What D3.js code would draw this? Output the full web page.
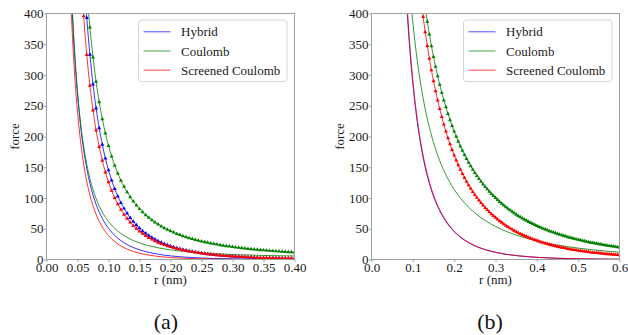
<!DOCTYPE html>
<html>
<head>
<meta charset="utf-8">
<script src="https://cdn.jsdelivr.net/npm/d3@7"></script>
<style>
  body { margin: 0; background: #fff; }
  svg { display: block; font-family: "Liberation Serif", "Times New Roman", serif; }
</style>
</head>
<body>
<svg id="chart" width="628" height="335"></svg>
<script>
// ---- data ----
const seriesNames = ["Hybrid", "Coulomb", "Screened Coulomb"];
const yTicks = [0, 50, 100, 150, 200, 250, 300, 350, 400];
const xTicksA = [0, 0.05, 0.1, 0.15, 0.2, 0.25, 0.3, 0.35, 0.4];
const xTicksB = [0, 0.1, 0.2, 0.3, 0.4, 0.5, 0.6];

// panel (a), plain lines
const rThinA = [0.035, 0.038, 0.040, 0.042, 0.045, 0.048, 0.050, 0.055, 0.060, 0.065, 0.070, 0.075, 0.080, 0.090, 0.100, 0.110, 0.120, 0.130, 0.140, 0.150, 0.165, 0.180, 0.200, 0.225, 0.250, 0.275, 0.300, 0.325, 0.350, 0.375, 0.400];
const hybridThinA = [582.5, 488.8, 437.8, 394.0, 338.9, 294.1, 268.6, 217.0, 177.9, 147.7, 124.0, 105.0, 89.7, 66.7, 50.7, 39.2, 30.7, 24.3, 19.5, 15.7, 11.6, 8.6, 5.9, 3.8, 2.4, 1.6, 1.1, 0.72, 0.49, 0.33, 0.23];
const coulombThinA = [595.0, 497.1, 444.4, 399.1, 343.6, 298.5, 273.1, 221.9, 183.8, 154.6, 131.8, 113.6, 99.0, 77.0, 61.7, 50.6, 42.3, 35.9, 30.9, 27.0, 22.4, 19.0, 15.7, 12.8, 10.7, 9.3, 8.1, 7.3, 6.6, 6.1, 5.7];
const screenedThinA = [540.0, 449.9, 401.3, 359.4, 307.0, 264.3, 240.2, 191.4, 154.8, 126.7, 104.8, 87.5, 73.5, 53.0, 39.0, 29.1, 22.1, 16.9, 13.1, 10.2, 7.1, 5.0, 3.2, 1.8, 1.1, 0.65, 0.39, 0.24, 0.15, 0.09, 0.06];

// panel (a), marked lines
const rDotsA = [0.055, 0.060, 0.065, 0.070, 0.075, 0.080, 0.085, 0.090, 0.095, 0.100, 0.105, 0.110, 0.115, 0.120, 0.125, 0.130, 0.135, 0.140, 0.145, 0.150, 0.155, 0.160, 0.165, 0.170, 0.175, 0.180, 0.185, 0.190, 0.195, 0.200, 0.205, 0.210, 0.215, 0.220, 0.225, 0.230, 0.235, 0.240, 0.245, 0.250, 0.255, 0.260, 0.265, 0.270, 0.275, 0.280, 0.285, 0.290, 0.295, 0.300, 0.305, 0.310, 0.315, 0.320, 0.325, 0.330, 0.335, 0.340, 0.345, 0.350, 0.355, 0.360, 0.365, 0.370, 0.375, 0.380, 0.385, 0.390, 0.395, 0.400];
const hybridDotsA = [566.4, 468.6, 392.9, 333.1, 285.0, 245.9, 213.7, 186.9, 164.3, 145.2, 128.9, 114.9, 102.7, 92.2, 83.0, 74.9, 67.8, 61.5, 55.9, 50.9, 46.4, 42.4, 38.9, 35.6, 32.7, 30.1, 27.7, 25.5, 23.6, 21.8, 20.1, 18.6, 17.2, 16.0, 14.8, 13.8, 12.8, 11.9, 11.1, 10.3, 9.6, 8.9, 8.3, 7.8, 7.3, 6.8, 6.3, 5.9, 5.5, 5.2, 4.9, 4.6, 4.3, 4.0, 3.7, 3.5, 3.3, 3.1, 2.9, 2.7, 2.6, 2.4, 2.3, 2.1, 2.0, 1.9, 1.8, 1.7, 1.6, 1.5];
const coulombDotsA = [611.6, 513.9, 437.9, 377.6, 328.9, 289.1, 256.1, 228.4, 205.0, 185.0, 167.8, 152.9, 139.9, 128.5, 118.4, 109.5, 101.5, 94.4, 88.0, 82.2, 77.0, 72.3, 68.0, 64.0, 60.4, 57.1, 54.1, 51.2, 48.7, 46.3, 44.0, 41.9, 40.0, 38.2, 36.5, 35.0, 33.5, 32.1, 30.8, 29.6, 28.5, 27.4, 26.3, 25.4, 24.5, 23.6, 22.8, 22.0, 21.3, 20.6, 19.9, 19.3, 18.6, 18.1, 17.5, 17.0, 16.5, 16.0, 15.5, 15.1, 14.7, 14.3, 13.9, 13.5, 13.2, 12.8, 12.5, 12.2, 11.9, 11.6];
const screenedDotsA = [476.7, 395.6, 332.6, 282.8, 242.7, 210.1, 183.2, 160.7, 141.8, 125.8, 112.0, 100.2, 90.0, 81.0, 73.2, 66.4, 60.3, 54.9, 50.1, 45.8, 42.0, 38.5, 35.4, 32.6, 30.0, 27.7, 25.6, 23.7, 22.0, 20.4, 19.0, 17.6, 16.4, 15.3, 14.2, 13.3, 12.4, 11.6, 10.8, 10.1, 9.5, 8.8, 8.3, 7.8, 7.3, 6.8, 6.4, 6.0, 5.7, 5.3, 5.0, 4.7, 4.4, 4.2, 3.9, 3.7, 3.5, 3.3, 3.1, 2.9, 2.8, 2.6, 2.5, 2.3, 2.2, 2.1, 2.0, 1.9, 1.8, 1.7];

// panel (b), plain lines
const rThinB = [0.080, 0.085, 0.090, 0.095, 0.100, 0.110, 0.120, 0.130, 0.140, 0.150, 0.165, 0.180, 0.200, 0.225, 0.250, 0.275, 0.300, 0.325, 0.350, 0.400, 0.450, 0.500, 0.550, 0.600];
const hybridThinB = [479.0, 417.6, 366.0, 322.6, 285.8, 227.3, 183.4, 149.7, 123.7, 102.9, 79.3, 61.9, 45.3, 31.4, 22.1, 15.9, 11.6, 8.4, 6.3, 3.5, 2.0, 1.2, 0.7, 0.4];
const coulombThinB = [567.1, 510.9, 462.9, 421.7, 385.9, 327.1, 281.2, 244.5, 214.8, 190.3, 160.7, 137.6, 113.9, 92.0, 75.8, 63.4, 53.7, 46.0, 39.7, 30.2, 23.5, 18.5, 14.7, 11.7];
const screenedThinB = [489.2, 426.1, 373.5, 329.2, 291.6, 231.9, 187.1, 152.8, 126.2, 105.0, 80.9, 63.2, 46.2, 32.0, 22.6, 16.2, 11.8, 8.6, 6.4, 3.6, 2.0, 1.2, 0.7, 0.4];

// panel (b), marked lines (hybrid markers sit under the screened ones)
const rDotsB = [0.115, 0.120, 0.125, 0.130, 0.135, 0.140, 0.145, 0.150, 0.155, 0.160, 0.165, 0.170, 0.175, 0.180, 0.185, 0.190, 0.195, 0.200, 0.205, 0.210, 0.215, 0.220, 0.225, 0.230, 0.235, 0.240, 0.245, 0.250, 0.255, 0.260, 0.265, 0.270, 0.275, 0.280, 0.285, 0.290, 0.295, 0.300, 0.305, 0.310, 0.315, 0.320, 0.325, 0.330, 0.335, 0.340, 0.345, 0.350, 0.355, 0.360, 0.365, 0.370, 0.375, 0.380, 0.385, 0.390, 0.395, 0.400, 0.405, 0.410, 0.415, 0.420, 0.425, 0.430, 0.435, 0.440, 0.445, 0.450, 0.455, 0.460, 0.465, 0.470, 0.475, 0.480, 0.485, 0.490, 0.495, 0.500, 0.505, 0.510, 0.515, 0.520, 0.525, 0.530, 0.535, 0.540, 0.545, 0.550, 0.555, 0.560, 0.565, 0.570, 0.575, 0.580, 0.585, 0.590, 0.595, 0.600];
const coulombDotsB = [489.0, 459.7, 433.2, 409.0, 386.7, 366.2, 347.2, 329.7, 313.5, 298.4, 284.3, 271.2, 258.9, 247.7, 236.9, 226.8, 217.2, 208.2, 199.8, 191.8, 184.2, 177.0, 170.2, 163.8, 157.7, 151.9, 146.4, 141.1, 136.1, 131.3, 126.8, 122.4, 118.3, 114.3, 110.5, 106.9, 103.4, 100.1, 96.9, 93.8, 90.9, 88.0, 85.3, 82.7, 80.2, 77.8, 75.4, 73.2, 71.0, 69.0, 67.0, 65.0, 63.2, 61.4, 59.6, 57.9, 56.4, 54.8, 53.3, 51.8, 50.4, 49.0, 47.7, 46.4, 45.2, 44.0, 42.8, 41.7, 40.6, 39.6, 38.5, 37.6, 36.6, 35.7, 34.8, 33.9, 33.0, 32.2, 31.4, 30.6, 29.9, 29.1, 28.4, 27.7, 27.1, 26.4, 25.8, 25.1, 24.5, 24.0, 23.4, 22.8, 22.3, 21.8, 21.3, 20.8, 20.3, 19.8];
const screenedDotsB = [450.4, 421.1, 394.4, 369.9, 347.5, 326.8, 307.8, 290.2, 273.9, 258.8, 244.9, 231.8, 219.6, 208.2, 197.5, 187.6, 178.2, 169.4, 161.2, 153.4, 146.1, 139.2, 132.7, 126.6, 120.8, 115.3, 110.1, 105.2, 100.6, 96.2, 92.0, 88.0, 84.2, 80.6, 77.2, 74.0, 70.9, 68.0, 65.2, 62.5, 60.0, 57.5, 55.2, 53.0, 50.9, 48.9, 47.0, 45.1, 43.4, 41.7, 40.1, 38.5, 37.1, 35.7, 34.3, 33.0, 31.8, 30.6, 29.4, 28.3, 27.3, 26.3, 25.3, 24.4, 23.5, 22.6, 21.8, 21.0, 20.3, 19.5, 18.8, 18.2, 17.5, 16.9, 16.3, 15.7, 15.2, 14.6, 14.1, 13.6, 13.2, 12.7, 12.3, 11.8, 11.4, 11.0, 10.7, 10.3, 9.9, 9.6, 9.3, 9.0, 8.7, 8.4, 8.1, 7.8, 7.5, 7.3];

// ---- setup ----
const svg = d3.select("#chart");
const colors = ["#0000ff", "#008000", "#ff0000"];
const plotTop = 13.5, plotBottom = 259.5, plotW = 248;

const panels = [
  {
    id: "a", x0: 46.5, xMax: 0.4, xTicks: xTicksA, fmt: d3.format(".2f"), caption: "(a)", capX: 166,
    thin: [{ r: rThinA, f: hybridThinA, c: 0 }, { r: rThinA, f: coulombThinA, c: 1 }, { r: rThinA, f: screenedThinA, c: 2 }],
    dots: [{ r: rDotsA, f: hybridDotsA, c: 0 }, { r: rDotsA, f: coulombDotsA, c: 1 }, { r: rDotsA, f: screenedDotsA, c: 2 }]
  },
  {
    id: "b", x0: 371.5, xMax: 0.6, xTicks: xTicksB, fmt: d3.format(".1f"), caption: "(b)", capX: 490,
    thin: [{ r: rThinB, f: hybridThinB, c: 0 }, { r: rThinB, f: coulombThinB, c: 1 }, { r: rThinB, f: screenedThinB, c: 2 }],
    dots: [{ r: rDotsB, f: coulombDotsB, c: 1 }, { r: rDotsB, f: screenedDotsB, c: 2 }]
  }
];

const y = d3.scaleLinear().domain([0, 400]).range([plotBottom, plotTop]);
const tri = d3.symbol().type(d3.symbolTriangle).size(7);
const defs = svg.append("defs");

panels.forEach((p) => {
  const x = d3.scaleLinear().domain([0, p.xMax]).range([p.x0, p.x0 + plotW]);
  const g = svg.append("g").attr("class", "panel-" + p.id);

  // clip to plot area
  defs.append("clipPath").attr("id", "clip-" + p.id)
    .append("rect").attr("x", p.x0).attr("y", plotTop).attr("width", plotW).attr("height", plotBottom - plotTop);

  const plot = g.append("g").attr("clip-path", `url(#clip-${p.id})`);

  const line = d3.line()
    .x((d) => x(d[0]))
    .y((d) => y(d[1]))
    .curve(d3.curveMonotoneX);

  // draw per series: thin line, then marked line (order like the legend)
  [0, 1, 2].forEach((c) => {
    p.thin.filter((s) => s.c === c).forEach((s) => {
      plot.append("path")
        .attr("d", line(s.r.map((r, i) => [r, s.f[i]])))
        .attr("fill", "none")
        .attr("stroke", colors[c])
        .attr("stroke-opacity", 0.8)
        .attr("stroke-width", 1);
    });
    p.dots.filter((s) => s.c === c).forEach((s) => {
      const pts = s.r.map((r, i) => [r, s.f[i]]);
      plot.append("path")
        .attr("d", line(pts))
        .attr("fill", "none")
        .attr("stroke", colors[c])
        .attr("stroke-opacity", 0.8)
        .attr("stroke-width", 1);
      plot.append("g")
        .selectAll("path")
        .data(pts.filter((d) => d[1] <= 410))
        .enter()
        .append("path")
        .attr("d", tri)
        .attr("transform", (d) => `translate(${x(d[0])},${y(d[1])})`)
        .attr("fill", colors[c]);
    });
  });

  // frame
  g.append("rect")
    .attr("x", p.x0).attr("y", plotTop).attr("width", plotW).attr("height", plotBottom - plotTop)
    .attr("fill", "none").attr("stroke", "#a0a0a0").attr("stroke-width", 1);

  // axes
  const xAxis = g.append("g")
    .attr("transform", `translate(0,${plotBottom})`)
    .call(d3.axisBottom(x).tickValues(p.xTicks).tickFormat(p.fmt).tickSizeInner(2.5).tickSizeOuter(0).tickPadding(1));
  const yAxis = g.append("g")
    .attr("transform", `translate(${p.x0},0)`)
    .call(d3.axisLeft(y).tickValues(yTicks).tickSizeInner(2.5).tickSizeOuter(0).tickPadding(0.5));
  [xAxis, yAxis].forEach((a) => {
    a.select(".domain").remove();
    a.selectAll(".tick line").attr("stroke", "#a0a0a0");
    a.selectAll(".tick text")
      .attr("fill", "#1a1a1a")
      .style("font-family", "'Liberation Serif', 'Times New Roman', serif")
      .style("font-size", "13px");
  });

  // axis titles
  g.append("text")
    .attr("x", p.x0 + plotW / 2).attr("y", 284)
    .attr("text-anchor", "middle").attr("font-size", 13).attr("fill", "#1a1a1a")
    .text("r (nm)");
  g.append("text")
    .attr("transform", `translate(${p.x0 - 32.5},${(plotTop + plotBottom) / 2}) rotate(-90)`)
    .attr("text-anchor", "middle").attr("dy", "0.35em").attr("font-size", 13).attr("fill", "#1a1a1a")
    .text("force");

  // legend
  const lx = p.x0 + plotW - 156, ly = 20;
  const legend = g.append("g").attr("transform", `translate(${lx},${ly})`);
  legend.append("rect")
    .attr("width", 148.5).attr("height", 61.5).attr("rx", 3).attr("ry", 3)
    .attr("fill", "#fff").attr("fill-opacity", 0.8)
    .attr("stroke", "#d6d6d6").attr("stroke-width", 1);
  seriesNames.forEach((name, i) => {
    const ry = 11.8 + i * 19.2;
    legend.append("line")
      .attr("x1", 5).attr("x2", 32).attr("y1", ry).attr("y2", ry)
      .attr("stroke", colors[i]).attr("stroke-opacity", 0.7).attr("stroke-width", 1);
    legend.append("text")
      .attr("x", 42.5).attr("y", ry).attr("dy", "0.35em")
      .attr("font-size", 13).attr("fill", "#1a1a1a")
      .text(name);
  });

  // panel caption
  svg.append("text")
    .attr("x", p.capX).attr("y", 329)
    .attr("text-anchor", "middle").attr("font-size", 22).attr("fill", "#111")
    .text(p.caption);
});
</script>
</body>
</html>
